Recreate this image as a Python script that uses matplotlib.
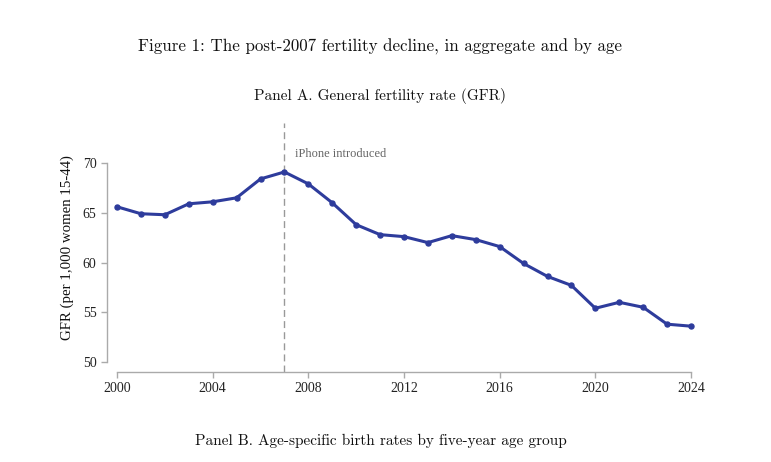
import matplotlib
matplotlib.use("Agg")
import matplotlib.pyplot as plt

# General fertility rate, births per 1,000 women 15-44
years = list(range(2000, 2025))
gfr = [65.6, 64.9, 64.8, 65.9, 66.1, 66.5, 68.4, 69.1, 67.9, 66.0,
       63.8, 62.8, 62.6, 62.0, 62.7, 62.3, 61.6, 59.9, 58.6, 57.7,
       55.4, 56.0, 55.5, 53.8, 53.6]
xticks = [2000, 2004, 2008, 2012, 2016, 2020, 2024]
yticks = [50, 55, 60, 65, 70]
iphone_year = 2007

serif = ['Liberation Serif', 'DejaVu Serif']
cm = ['cmr10', 'DejaVu Serif']
line_col = '#2e3c9c'
axis_col = '#aaaaaa'

fig = plt.figure(figsize=(7.71, 4.62), dpi=100)
W, H = 771, 462

# axes box in pixels: left spine x=107, bottom spine y=372, top y=123
left, right, top, bottom = 107, 692, 123, 372
ax = fig.add_axes([left / W, 1 - bottom / H, (right - left) / W, (bottom - top) / H])

px_year = (691 - 117) / 24
px_unit = (362 - 163) / 20
ax.set_xlim(2000 - (117 - left) / px_year, 2000 + (right - 117) / px_year)
ax.set_ylim(50 - (bottom - 362) / px_unit, 70 + (163 - top) / px_unit)

ax.plot(years, gfr, color=line_col, lw=2.2, marker='o', ms=3.6, clip_on=False, zorder=3)
ax.axvline(iphone_year, color='#999999', lw=1, ls=(0, (5, 3)), zorder=2)
ax.text(iphone_year + 0.45, 70 + (163 - 154) / px_unit, 'iPhone introduced',
        family=serif, fontsize=9, color='#666666', va='center', ha='left')

for s in ['top', 'right']:
    ax.spines[s].set_visible(False)
ax.spines['left'].set_bounds(50, 70)
ax.spines['bottom'].set_bounds(2000, 2024)
for s in ['left', 'bottom']:
    ax.spines[s].set_color(axis_col)
    ax.spines[s].set_linewidth(1)

ax.set_xticks(xticks)
ax.set_yticks(yticks)
ax.tick_params(colors=axis_col, length=4, width=1, labelcolor='#222222', labelsize=10)
for lab in ax.get_xticklabels() + ax.get_yticklabels():
    lab.set_family(serif)
ax.set_ylabel('GFR (per 1,000 women 15-44)', family=serif, fontsize=10.7,
              color='#111111', labelpad=6)

fig.text(380 / W, 1 - 47 / H, 'Figure 1: The post-2007 fertility decline, in aggregate and by age',
         family=cm, fontsize=12.2, ha='center', va='center', color='#111111')
fig.text(380 / W, 1 - 96 / H, 'Panel A. General fertility rate (GFR)',
         family=cm, fontsize=11, ha='center', va='center', color='#111111')
fig.text(381 / W, 1 - 441 / H, 'Panel B. Age-specific birth rates by five-year age group',
         family=cm, fontsize=11, ha='center', va='center', color='#111111')

fig.savefig('out.png', dpi=100)
